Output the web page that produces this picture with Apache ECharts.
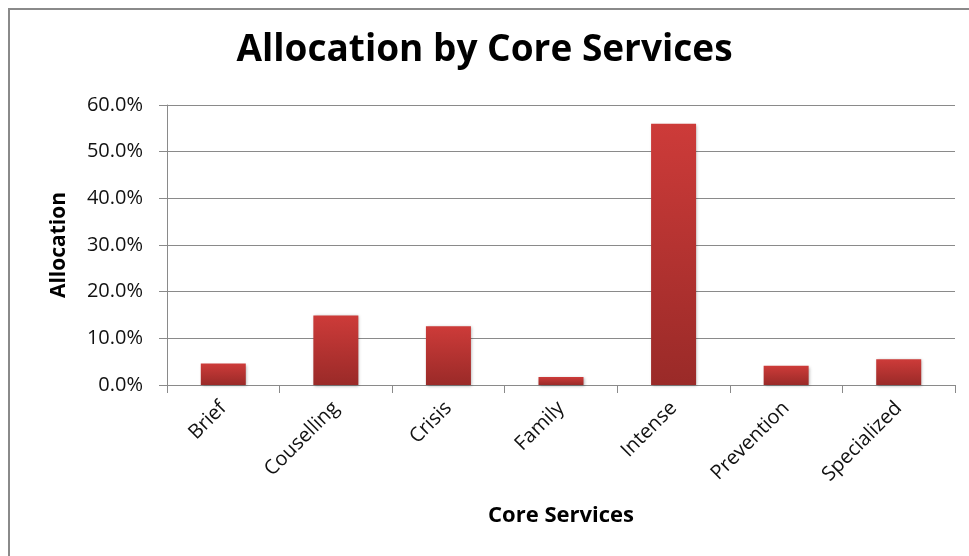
<!DOCTYPE html>
<html>
<head>
<meta charset="utf-8">
<script src="https://cdn.jsdelivr.net/npm/echarts@6/dist/echarts.min.js"></script>
<style>
  html, body { margin: 0; padding: 0; background: #ffffff; }
  #chart { width: 969px; height: 556px; }
</style>
</head>
<body>
<div id="chart"></div>
<script>
// Share of allocation per core service, in percent
const categories = ['Brief', 'Couselling', 'Crisis', 'Family', 'Intense', 'Prevention', 'Specialized'];
const allocation = [4.6, 14.9, 12.6, 1.7, 56.0, 4.1, 5.5];
const yTicks = { min: 0, max: 60, interval: 10 };

const FONT = '"Open Sans", Lato, sans-serif';
const chart = echarts.init(document.getElementById('chart'), null, { renderer: 'canvas' });

chart.setOption({
  backgroundColor: '#ffffff',
  animation: false,
  title: {
    text: 'Allocation by Core Services',
    left: 'center',
    top: 27,
    textStyle: { fontFamily: FONT, fontSize: 37, fontWeight: 'bold', color: '#000' }
  },
  graphic: [{
    type: 'rect',
    shape: { x: 9, y: 9, width: 990, height: 580 },
    style: { fill: 'none', stroke: '#8a8a8a', lineWidth: 2 },
    silent: true
  }],
  grid: { left: 167, right: 14, top: 105, bottom: 171 },
  xAxis: {
    type: 'category',
    data: categories,
    name: 'Core Services',
    nameLocation: 'middle',
    nameGap: 120,
    nameTextStyle: { fontFamily: FONT, fontSize: 22, fontWeight: 'bold', color: '#000' },
    axisLine: { lineStyle: { color: '#8a8a8a', width: 1 } },
    axisTick: { show: true, length: 8, lineStyle: { color: '#8a8a8a' } },
    axisLabel: { rotate: 45, margin: 20, fontFamily: FONT, fontSize: 20, color: '#111' }
  },
  yAxis: {
    type: 'value',
    min: yTicks.min,
    max: yTicks.max,
    interval: yTicks.interval,
    name: 'Allocation',
    nameLocation: 'middle',
    nameRotate: 90,
    nameGap: 97,
    nameTextStyle: { fontFamily: FONT, fontSize: 21, fontWeight: 'bold', color: '#000' },
    axisLine: { show: true, lineStyle: { color: '#8a8a8a', width: 1 } },
    axisTick: { show: true, length: 8, lineStyle: { color: '#8a8a8a' } },
    splitLine: { show: true, lineStyle: { color: '#8a8a8a', width: 1 } },
    axisLabel: {
      margin: 24,
      fontFamily: FONT,
      fontSize: 20,
      color: '#111',
      formatter: v => v.toFixed(1) + '%'
    }
  },
  series: [{
    type: 'bar',
    data: allocation,
    barWidth: 45,
    itemStyle: {
      color: new echarts.graphic.LinearGradient(0, 0, 0, 1, [
        { offset: 0, color: '#cd3b39' },
        { offset: 1, color: '#9a2a28' }
      ]),
      shadowColor: 'rgba(0,0,0,0.3)',
      shadowBlur: 3,
      shadowOffsetX: 1,
      shadowOffsetY: 1
    }
  }]
});
</script>
</body>
</html>
